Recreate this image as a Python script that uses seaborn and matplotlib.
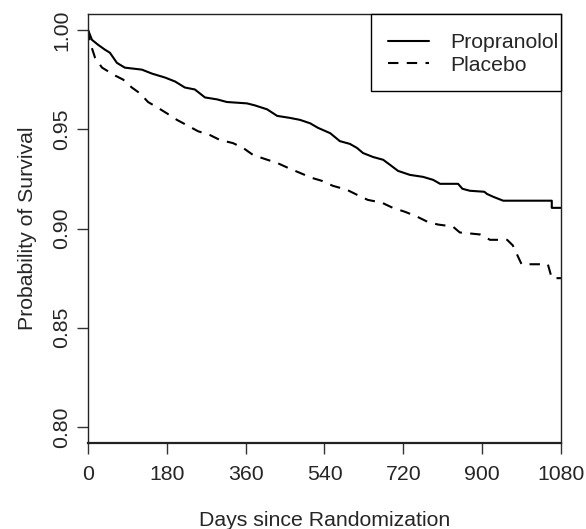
import matplotlib
matplotlib.use("Agg")
import matplotlib.pyplot as plt
from matplotlib.patches import Rectangle
import pandas as pd
import seaborn as sns

sns.set_style("ticks")
plt.rcParams["font.family"] = ["Liberation Sans", "DejaVu Sans"]

# Kaplan-Meier curves, vertices
prop_days = [0, 9, 23, 39, 50, 66, 84, 123, 146, 176, 199, 221, 244, 267, 295,
             317, 363, 381, 409, 432, 461, 484, 507, 525, 553, 575, 598, 614,
             628, 651, 674, 690, 708, 735, 765, 788, 804, 845, 855, 872, 905,
             911, 925, 948, 1059, 1059, 1080]
prop_surv = [1.000, 0.995, 0.9925, 0.990, 0.9885, 0.9834, 0.981, 0.980, 0.978,
             0.976, 0.974, 0.971, 0.970, 0.966, 0.965, 0.9637, 0.963, 0.962,
             0.960, 0.9567, 0.9557, 0.9547, 0.953, 0.9507, 0.948, 0.944,
             0.9426, 0.9406, 0.938, 0.936, 0.9346, 0.932, 0.929, 0.927, 0.926,
             0.9245, 0.9225, 0.9225, 0.920, 0.919, 0.9185, 0.9174, 0.916,
             0.914, 0.914, 0.9104, 0.9104]

plac_days = [0, 5, 16, 32, 62, 80, 100, 119, 137, 158, 180, 203, 226, 251, 279,
             301, 331, 354, 377, 404, 432, 457, 484, 511, 534, 559, 591, 614,
             639, 671, 696, 724, 751, 776, 799, 833, 849, 895, 918, 957, 970,
             990, 1050, 1059, 1080]
plac_surv = [1.000, 0.9935, 0.986, 0.981, 0.977, 0.975, 0.971, 0.968, 0.9637,
             0.961, 0.958, 0.9547, 0.952, 0.949, 0.947, 0.9446, 0.943, 0.9406,
             0.937, 0.935, 0.933, 0.9305, 0.928, 0.9255, 0.924, 0.9215, 0.9195,
             0.917, 0.9144, 0.913, 0.9104, 0.9084, 0.906, 0.9033, 0.902, 0.901,
             0.898, 0.897, 0.8943, 0.8943, 0.8915, 0.882, 0.882, 0.875, 0.875]

x_ticks = [0, 180, 360, 540, 720, 900, 1080]
y_ticks = [0.80, 0.85, 0.90, 0.95, 1.00]

prop = pd.DataFrame({"days": prop_days, "surv": prop_surv})
plac = pd.DataFrame({"days": plac_days, "surv": plac_surv})

FS = 15.3

fig = plt.figure(figsize=(5.86, 5.29), dpi=100)
ax = fig.add_axes([0.1502, 0.1626, 0.8071, 0.8109])

sns.lineplot(data=prop, x="days", y="surv", ax=ax, color="black", lw=1.5,
             estimator=None, sort=False, label="Propranolol")
sns.lineplot(data=plac, x="days", y="surv", ax=ax, color="black", lw=1.5,
             estimator=None, sort=False, linestyle=(0, (5, 4)),
             label="Placebo")

ax.set_xlim(0, 1080)
ax.set_ylim(0.792, 1.008)
ax.set_xticks(x_ticks)
ax.set_xticklabels([str(t) for t in x_ticks])
ax.set_yticks(y_ticks)
ax.set_yticklabels([f"{t:.2f}" for t in y_ticks], rotation=90, va="center")
ax.tick_params(axis="both", labelsize=FS, length=8, width=1, color="#333333")
ax.tick_params(axis="x", pad=8)
ax.tick_params(axis="y", pad=4)

for side in ["top", "right", "left", "bottom"]:
    ax.spines[side].set_visible(True)
    ax.spines[side].set_linewidth(1.0)
    ax.spines[side].set_color("#222222")
ax.spines["bottom"].set_linewidth(1.6)

ax.set_xlabel("Days since Randomization", fontsize=FS, labelpad=19)
ax.set_ylabel("Probability of Survival", fontsize=FS, labelpad=11)

# legend box like R's: frame drawn separately, entries placed inside
ax.add_patch(Rectangle((0.598, 0.8205), 0.402, 0.1795, transform=ax.transAxes,
                       facecolor="white", edgecolor="black", lw=1.0,
                       zorder=4, clip_on=False))
leg = ax.legend(loc="center left", bbox_to_anchor=(0.634, 0.9068),
                fontsize=FS, frameon=False, borderaxespad=0, borderpad=0,
                handlelength=1.95, handletextpad=1.0, labelspacing=0.15)
leg.set_zorder(5)

fig.savefig("out.png", dpi=100)
